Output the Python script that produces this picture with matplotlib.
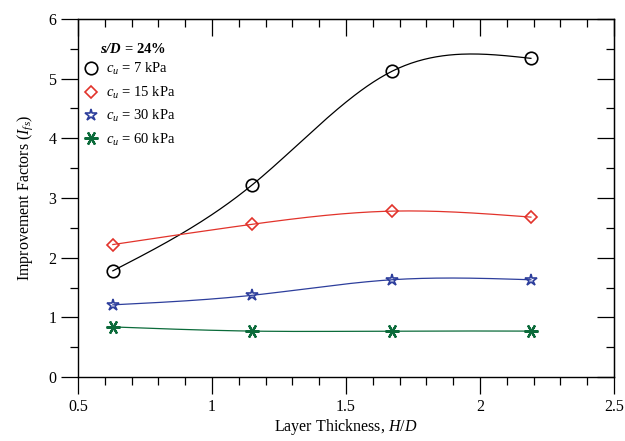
import numpy as np
import matplotlib
matplotlib.use("Agg")
import matplotlib.pyplot as plt
from matplotlib.ticker import MultipleLocator

# layer thickness H/D
hd = [0.63, 1.15, 1.67, 2.19]

# improvement factors for each undrained shear strength
cu7 = [1.78, 3.22, 5.12, 5.34]
cu15 = [2.22, 2.56, 2.78, 2.68]
cu30 = [1.21, 1.37, 1.63, 1.63]
cu60 = [0.84, 0.77, 0.77, 0.77]

labels = [r"$c_u$ = 7 kPa", r"$c_u$ = 15 kPa", r"$c_u$ = 30 kPa", r"$c_u$ = 60 kPa"]
colors = ["black", "#e2332b", "#2d3e9c", "#0b6b3a"]


def natural_spline(x, y, n=200):
    # natural cubic spline through the points
    x = np.asarray(x, float)
    y = np.asarray(y, float)
    k = len(x)
    h = np.diff(x)
    A = np.zeros((k, k))
    b = np.zeros(k)
    A[0, 0] = 1
    A[-1, -1] = 1
    for i in range(1, k - 1):
        A[i, i - 1] = h[i - 1]
        A[i, i] = 2 * (h[i - 1] + h[i])
        A[i, i + 1] = h[i]
        b[i] = 3 * ((y[i + 1] - y[i]) / h[i] - (y[i] - y[i - 1]) / h[i - 1])
    c = np.linalg.solve(A, b)
    xs = np.linspace(x[0], x[-1], n)
    ys = np.zeros_like(xs)
    for j, xv in enumerate(xs):
        i = min(np.searchsorted(x, xv, side="right") - 1, k - 2)
        dx = xv - x[i]
        bi = (y[i + 1] - y[i]) / h[i] - h[i] * (2 * c[i] + c[i + 1]) / 3
        di = (c[i + 1] - c[i]) / (3 * h[i])
        ys[j] = y[i] + bi * dx + c[i] * dx ** 2 + di * dx ** 3
    return xs, ys


plt.rcParams["font.family"] = "Liberation Serif"
plt.rcParams["mathtext.fontset"] = "custom"
plt.rcParams["mathtext.it"] = "Liberation Serif:italic"
plt.rcParams["mathtext.rm"] = "Liberation Serif"
plt.rcParams["mathtext.bf"] = "Liberation Serif:bold"
plt.rcParams["mathtext.bfit"] = "Liberation Serif:italic:bold"

fig = plt.figure(figsize=(6.25, 4.41), dpi=100)
ax = fig.add_axes([0.1248, 0.145, 0.8576, 0.812])

asterisk = (6, 2, 90)
markers = ["o", "D", "*", asterisk]
msizes = [9, 6.5, 9, 10]

for ys, lab, col, mk, ms in zip([cu7, cu15, cu30, cu60], labels, colors, markers, msizes):
    xs, sm = natural_spline(hd, ys)
    ax.plot(xs, sm, color=col, lw=0.9)
    if mk == asterisk:
        ax.plot(hd, ys, ls="none", marker=mk, ms=ms, mec=col, mew=1.6, color=col)
        ax.plot([], [], color=col, ls="none", marker=mk, ms=ms, mew=1.6, label=lab)
    else:
        ax.plot(hd, ys, ls="none", marker=mk, ms=ms, mfc="none", mec=col, mew=1.2, label=lab)

ax.set_xlim(0.5, 2.5)
ax.set_ylim(0, 6)
ax.xaxis.set_major_locator(MultipleLocator(0.5))
ax.xaxis.set_minor_locator(MultipleLocator(0.1))
ax.yaxis.set_major_locator(MultipleLocator(1))
ax.yaxis.set_minor_locator(MultipleLocator(0.5))
ax.set_xticks([0.5, 1, 1.5, 2, 2.5])
ax.set_xticklabels(["0.5", "1", "1.5", "2", "2.5"])

ax.tick_params(which="both", direction="out", top=False, right=False, labelsize=11.5, width=0.9)
ax.tick_params(which="major", length=12)
ax.tick_params(which="minor", length=6)

# inward ticks on top and right
sec_x = ax.secondary_xaxis("top")
sec_x.xaxis.set_major_locator(MultipleLocator(0.5))
sec_x.xaxis.set_minor_locator(MultipleLocator(0.1))
sec_x.tick_params(which="both", direction="in", labeltop=False, width=0.9)
sec_x.tick_params(which="major", length=12)
sec_x.tick_params(which="minor", length=6)
sec_y = ax.secondary_yaxis("right")
sec_y.yaxis.set_major_locator(MultipleLocator(1))
sec_y.yaxis.set_minor_locator(MultipleLocator(0.5))
sec_y.tick_params(which="both", direction="in", labelright=False, width=0.9)
sec_y.tick_params(which="major", length=12)
sec_y.tick_params(which="minor", length=6)

for s in ax.spines.values():
    s.set_linewidth(1.0)

ax.set_xlabel(r"Layer Thickness, $H/D$", fontsize=11.5, labelpad=2)
ax.set_ylabel(r"Improvement Factors ($I_{fs}$)", fontsize=11.5, labelpad=10)

ax.text(0.041, 0.917, r"$\mathbfit{s/D}$ = 24%", transform=ax.transAxes,
        fontsize=10.5, fontweight="bold", ha="left", va="center")

ax.legend(loc="upper left", bbox_to_anchor=(0.0, 0.898), frameon=False, fontsize=10.5,
          handletextpad=0.5, labelspacing=0.5, handlelength=1.0, borderaxespad=0.0)

fig.savefig("out.png", dpi=100)
